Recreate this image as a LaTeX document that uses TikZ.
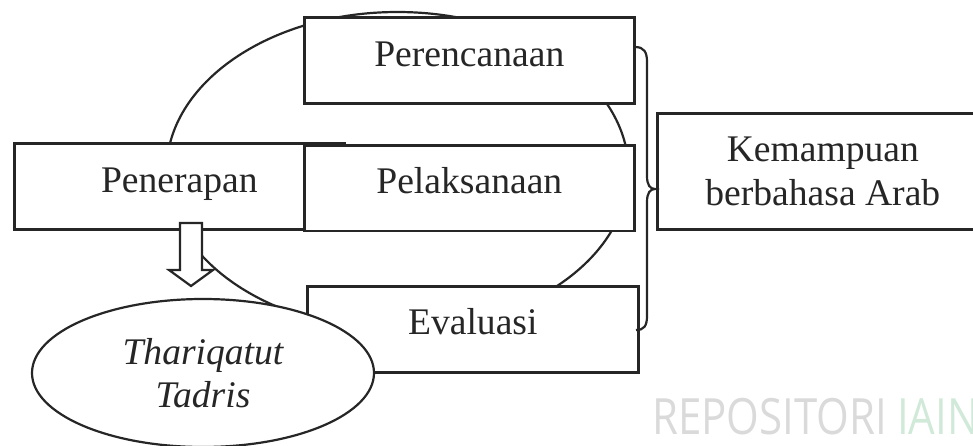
\documentclass[tikz,border=0pt]{standalone}
\usepackage{fontspec}
\setmainfont{Liberation Serif}
\newfontfamily\wmfont{Open Sans}
\usetikzlibrary{shapes.geometric}
\definecolor{ink}{RGB}{38,38,38}
\definecolor{wmgray}{RGB}{218,218,218}
\definecolor{wmgreen}{RGB}{208,233,216}
\newcommand\bigfont{\fontsize{37.6}{43.5}\selectfont}
\begin{document}
\begin{tikzpicture}[x=1pt,y=-1pt,
  box/.style={draw=ink, line width=2.6pt, fill=white, inner sep=0pt,
    minimum width=330pt, text=ink, font=\bigfont, anchor=north west},
  curve/.style={draw=ink, line width=2.2pt},
  wm/.style={anchor=base west, inner sep=0pt, xscale=0.84,
    font=\wmfont\fontsize{50}{50}\selectfont}]
\useasboundingbox (0,0) rectangle (973,446);
\clip (0,0) rectangle (973,446);
% big cycle ellipse
\node[curve, ellipse, minimum width=462pt, minimum height=318pt, inner sep=0pt] (cycle) at (397.5,171) {};
% boxes
\node[box, text height=49pt, text depth=37pt] (apply) at (13,142) {Penerapan};
\node[box, text height=48pt, text depth=37pt] (exec) at (303,144.5) {Pelaksanaan};
\node[box, text height=49pt, text depth=37pt] (plan) at (303,16) {Perencanaan};
\node[box, minimum width=331pt, text height=48pt, text depth=38pt] (eval) at (306,285) {Evaluasi};
\node[box, minimum width=331pt, minimum height=116pt, align=center] (skill) at (656,112) {Kemampuan\\berbahasa Arab};
% method ellipse
\node[curve, ellipse, fill=white, minimum width=342pt, minimum height=148pt, inner sep=0pt,
  align=center, text=ink, font=\bigfont\itshape] (tt) at (203,373) {Thariqatut\\Tadris};
% hollow block arrow
\draw[curve, fill=white, line join=miter] (180,223) -- (202,223) -- (202,270) -- (213,270)
  -- (191,286) -- (169,270) -- (180,270) -- cycle;
% brace
\draw[curve] (635,47) .. controls (644,47) and (647,52) .. (647,62) -- (647,176)
  .. controls (647,185) and (650,189) .. (655,189)
  .. controls (650,189) and (647,193) .. (647,202) -- (647,316)
  .. controls (647,326) and (644,330) .. (636,330);
% watermark
\node[wm, text=wmgray] (wm1) at (652,434) {REPOSITORI};
\node[wm, text=wmgreen] (wm2) at (897,434) {IAIN};
\end{tikzpicture}
\end{document}
